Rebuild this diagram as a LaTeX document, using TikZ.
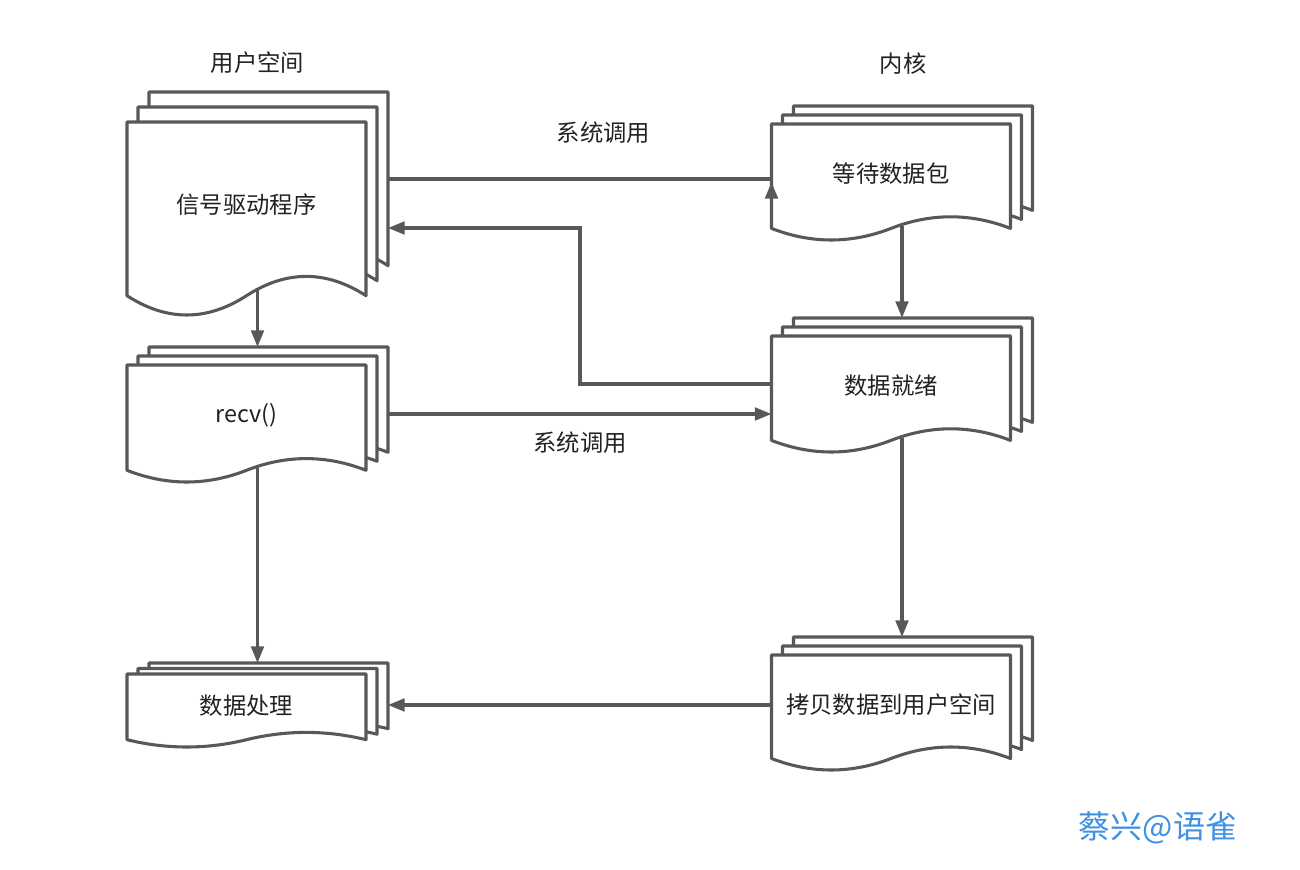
\documentclass[tikz,border=0pt]{standalone}
\usepackage{fontspec}
\setmainfont{Noto Sans CJK SC}
\usetikzlibrary{arrows.meta,calc}
\definecolor{linegray}{RGB}{88,88,88}
\definecolor{txt}{RGB}{34,34,34}
\definecolor{markblue}{RGB}{64,144,228}
\tikzset{
  docshape/.style={draw=linegray, fill=white, line width=2.3pt, line join=round},
  conn/.style={draw=linegray, line width=2.3pt, -{Triangle[length=12.5pt,width=9.5pt]}},
  lbl/.style={text=txt, font=\fontsize{17.5pt}{21pt}\selectfont, inner sep=0pt},
  frame/.style={inner sep=0pt, outer sep=0pt},
}
% #1 name, #2 front left x, #3 back top y, #4 front height, #5 vertical offset, #6 text
\newcommand\multidoc[6]{%
  \foreach \k in {2,1,0}{%
    \pgfmathsetmacro\xl{#2+\k*11}%
    \pgfmathsetmacro\xr{\xl+239}%
    \pgfmathsetmacro\xa{\xl+199.2}%
    \pgfmathsetmacro\xb{\xl+159.3}%
    \pgfmathsetmacro\xm{\xl+119.5}%
    \pgfmathsetmacro\xc{\xl+79.7}%
    \pgfmathsetmacro\xd{\xl+39.8}%
    \pgfmathsetmacro\yt{#3+(2-\k)*#5}%
    \pgfmathsetmacro\yc{\yt+0.9*#4}%
    \pgfmathsetmacro\yp{\yt+0.7667*#4}%
    \pgfmathsetmacro\yq{\yt+1.0333*#4}%
    \draw[docshape] (\xl,\yt) -- (\xr,\yt) -- (\xr,\yc)
      .. controls (\xa,\yp) and (\xb,\yp) .. (\xm,\yc)
      .. controls (\xc,\yq) and (\xd,\yq) .. (\xl,\yc) -- cycle;
  }%
  \node[frame, minimum width={261*0.75pt}, minimum height={(#4+2*#5)*0.75pt}]
    (#1) at ({#2+130.5},{#3+#5+#4/2}) {};
  \node[lbl] (#1-text) at ({#2+119.5},{#3+2*#5+0.43*#4}) {#6};
}
\begin{document}
\begin{tikzpicture}[x=0.75pt, y=-0.75pt]
  \useasboundingbox[fill=white] (0,0) rectangle (1300,870);

  \multidoc{sig}{127}{92}{193}{15}{信号驱动程序}
  \multidoc{recv}{127}{347}{117}{9}{recv()}
  \multidoc{proc}{127}{663}{73}{5.5}{数据处理}
  \multidoc{wait}{771.5}{106}{116}{9}{等待数据包}
  \multidoc{ready}{771.5}{318}{116}{9}{数据就绪}
  \multidoc{copy}{771.5}{637}{115}{9}{拷贝数据到用户空间}

  \node[lbl] (user) at (257.5,63) {用户空间};
  \node[lbl] (kern) at (903,64) {内核};
  \node[lbl] (sc1) at (603.5,133) {系统调用};
  \node[lbl] (sc2) at (580,443) {系统调用};
  \node[font=\fontsize{24pt}{29pt}\selectfont, text=markblue, inner sep=0pt] (wm) at (1158,828) {蔡兴@语雀};

  \draw[conn] ($(sig.north east)+(0,87)$) -- ($(wait.north west)+(0,73)$)
    -- ($(wait.north west)+(0,92)$) -- ($(wait.north west)+(0,76)$);
  \draw[conn] ($(ready.north west)+(0,66)$) -- ++(-191.5,0) |- ($(sig.north east)+(0,136)$);
  \draw[conn] ($(recv.north east)+(0,67)$) -- ($(ready.north west)+(0,96)$);
  \draw[conn] ($(wait.south)+(0,-14)$) -- (ready.north);
  \draw[conn] ($(ready.south)+(0,-14)$) -- (copy.north);
  \draw[conn] ($(copy.north west)+(0,68)$) -- ($(proc.north east)+(0,42)$);
  \draw[conn] ($(sig.south)+(0,-25)$) -- (recv.north);
  \draw[conn] ($(recv.south)+(0,-14)$) -- (proc.north);
\end{tikzpicture}
\end{document}
